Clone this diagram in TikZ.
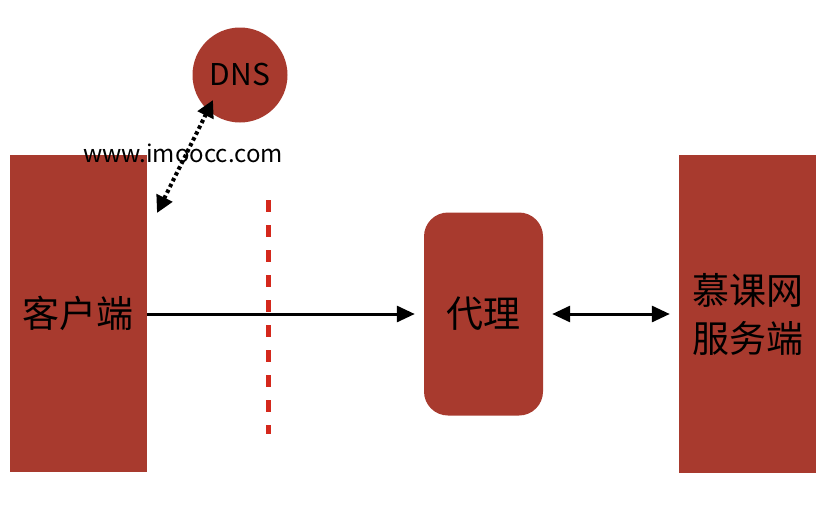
\documentclass[tikz,border=0pt]{standalone}
\usepackage{fontspec}
\setmainfont{Noto Sans CJK SC}
\usetikzlibrary{arrows.meta}
\definecolor{boxred}{RGB}{168,58,46}
\definecolor{dashred}{RGB}{212,40,28}
\begin{document}
\begin{tikzpicture}[x=1pt,y=-1pt,
  box/.style={fill=boxred,draw=none,inner sep=0pt,font=\fontsize{37}{48}\selectfont,text=black,align=center},
  conn/.style={line width=3pt,-{Triangle[length=18pt,width=16pt]}},
  dconn/.style={line width=3pt,{Triangle[length=18pt,width=16pt]}-{Triangle[length=18pt,width=16pt]}},
  dotconn/.style={line width=4pt,dash pattern=on 3.5pt off 3pt,{Triangle[length=17pt,width=17pt]}-{Triangle[length=17pt,width=17pt]}},
  sep/.style={line width=5pt,dashred,dash pattern=on 12pt off 13pt}]
\useasboundingbox (0,0) rectangle (825,525);
\node[box,minimum width=137pt,minimum height=317pt] (client) at (78.5,313.5) {客户端};
\node[box,circle,minimum size=95pt,font=\fontsize{30}{32}\selectfont] (dns) at (240,75) {DNS};
\node[font=\fontsize{24}{28}\selectfont,inner sep=0pt] (url) at (183,153) {www.imoocc.com};
\node[box,rounded corners=24pt,minimum width=119pt,minimum height=203pt] (proxy) at (483.5,314) {代理};
\node[box,minimum width=137pt,minimum height=318pt] (server) at (747.5,314) {慕课网\\服务端};
\coordinate (sepTop) at (268,200);
\coordinate (sepBot) at (268,434);
\draw[sep] (sepTop) -- (sepBot);
\coordinate (dnsA) at (157,213);
\coordinate (dnsB) at (213,100);
\draw[dotconn] (dnsA) -- (dnsB);
\draw[conn] (client.east |- 0,314) -- ([xshift=-9pt]proxy.west |- 0,314);
\draw[dconn] ([xshift=9pt]proxy.east |- 0,314) -- ([xshift=-9pt]server.west |- 0,314);
\end{tikzpicture}
\end{document}
